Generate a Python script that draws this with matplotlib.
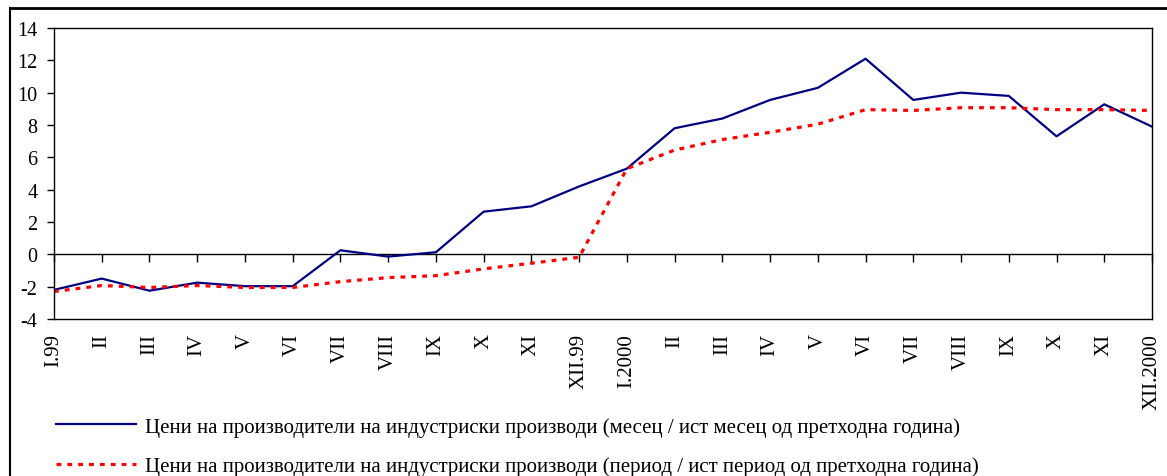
import numpy as np
import matplotlib
matplotlib.use("Agg")
import matplotlib.pyplot as plt
from matplotlib.lines import Line2D

plt.rcParams['font.family'] = ['Liberation Serif', 'DejaVu Serif']
plt.rcParams['axes.unicode_minus'] = False

months = ['I.99', 'II', 'III', 'IV', 'V', 'VI', 'VII', 'VIII', 'IX', 'X', 'XI', 'XII.99',
          'I.2000', 'II', 'III', 'IV', 'V', 'VI', 'VII', 'VIII', 'IX', 'X', 'XI', 'XII.2000']

mesec = [-2.2, -1.5, -2.25, -1.75, -1.97, -1.97, 0.25, -0.14, 0.13, 2.64, 2.97, 4.2,
         5.3, 7.8, 8.4, 9.55, 10.3, 12.1, 9.55, 10.0, 9.8, 7.3, 9.28, 7.9]
period = [-2.3, -1.93, -2.05, -1.93, -2.05, -2.05, -1.69, -1.44, -1.32, -0.9, -0.55, -0.18,
          5.3, 6.45, 7.1, 7.55, 8.05, 8.95, 8.9, 9.07, 9.07, 8.95, 8.95, 8.9]

label_mesec = 'Цени на производители на индустриски производи (месец / ист месец од претходна година)'
label_period = 'Цени на производители на индустриски производи (период / ист период од претходна година)'

W, H = 1167, 477
fig = plt.figure(figsize=(W / 100, H / 100), dpi=100)
ax = fig.add_axes([54 / W, 1 - 320 / H, (1152 - 54) / W, (320 - 29) / H])

x = np.arange(len(months))
ax.plot(x, mesec, color='#000080', lw=1.6, label=label_mesec)
ax.plot(x, period, color='#ff0000', lw=2.3, linestyle=(0, (1.5, 1.9)), label=label_period)

ax.set_xlim(0, len(months) - 1)
ax.set_ylim(-4, 14)
ax.set_yticks(np.arange(-4, 15, 2))
ax.tick_params(axis='y', direction='out', length=5, width=1, labelsize=14.5, pad=7)
ax.set_xticks(x)
ax.set_xticklabels(months, rotation=90, va='top', ha='center')
ax.tick_params(axis='x', length=0, labelsize=15, pad=10)
for s in ax.spines.values():
    s.set_linewidth(1.0)

# zero axis with tick marks
zero = ax.secondary_xaxis(4 / 18)
zero.set_xticks(x)
zero.tick_params(direction='out', length=6, width=1, labelbottom=False)
zero.spines['bottom'].set_linewidth(1.0)

leg = fig.legend(loc='upper left', bbox_to_anchor=(56 / W, 1 - 418 / H), frameon=False,
                 fontsize=15, handlelength=3.85, handletextpad=0.4, labelspacing=0.95,
                 borderpad=0, borderaxespad=0)

# outer chart frame (cropped)
fig.add_artist(Line2D([10 / W, 10 / W], [0, 1 - 9 / H], transform=fig.transFigure, color='black', lw=1.5))
fig.add_artist(Line2D([10 / W, 1], [1 - 9 / H, 1 - 9 / H], transform=fig.transFigure, color='black', lw=2))

fig.savefig('out.png', dpi=100)
